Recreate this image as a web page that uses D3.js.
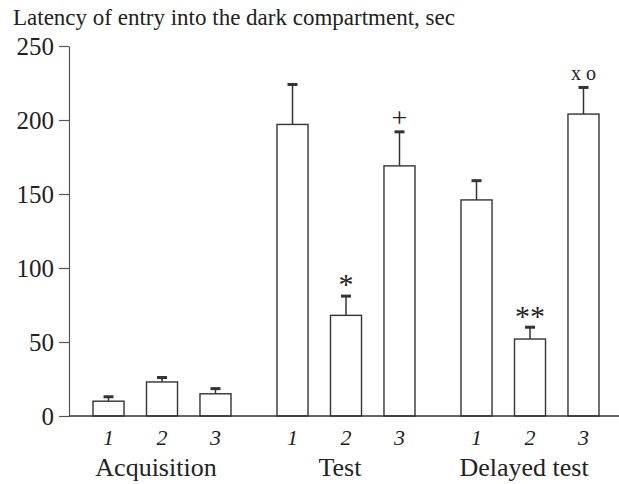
<!DOCTYPE html>
<html>
<head>
<meta charset="utf-8">
<script src="https://cdn.jsdelivr.net/npm/d3@7"></script>
<style>
  body { margin: 0; background: #fff; }
  text { font-family: "Liberation Serif", "Times New Roman", serif; fill: #222; }
</style>
</head>
<body>
<svg id="chart" width="619" height="484"></svg>
<script>
// data
const groups = ["Acquisition", "Test", "Delayed test"];
const subgroups = ["1", "2", "3"];
const means = [
  [10, 23, 15],
  [197, 68, 169],
  [146, 52, 204]
];
const errors = [
  [3, 3, 3.5],
  [27, 13, 23],
  [13, 8, 18]
];
const marks = [
  ["", "", ""],
  ["", "*", "+"],
  ["", "**", "x o"]
];
const yTicks = [0, 50, 100, 150, 200, 250];

const svg = d3.select("#chart");

// scales
const y = d3.scaleLinear().domain([0, 250]).range([416, 46]);
const xGroup = d3.scaleBand().domain(groups).range([93, 599]).paddingInner(0.25).paddingOuter(0);
const xSub = d3.scaleBand().domain(subgroups).range([0, xGroup.bandwidth()]).paddingInner(0.42).paddingOuter(0);

// flatten for drawing
const rows = [];
groups.forEach((g, gi) => {
  subgroups.forEach((s, si) => {
    rows.push({ group: g, sub: s, value: means[gi][si], err: errors[gi][si], mark: marks[gi][si] });
  });
});
const cx = d => xGroup(d.group) + xSub(d.sub) + xSub.bandwidth() / 2;

// title
svg.append("text")
  .attr("x", 13)
  .attr("y", 25)
  .style("font-size", "23px")
  .text("Latency of entry into the dark compartment, sec");

// y axis
const yAxis = svg.append("g")
  .attr("transform", "translate(69,0)")
  .call(d3.axisLeft(y).tickValues(yTicks).tickSize(10).tickSizeOuter(0).tickPadding(5));
yAxis.select(".domain").attr("stroke", "#555").attr("stroke-width", 1.2);
yAxis.selectAll(".tick line").attr("stroke", "#555").attr("stroke-width", 1.2);
yAxis.selectAll(".tick text")
  .style("font-size", "25px")
  .style("font-family", "'Liberation Serif', serif")
  .attr("fill", "#222")
  .attr("dy", "0.34em");

// error bars
svg.selectAll(".err-line")
  .data(rows)
  .join("line")
  .attr("class", "err-line")
  .attr("x1", cx).attr("x2", cx)
  .attr("y1", d => y(d.value))
  .attr("y2", d => y(d.value + d.err))
  .attr("stroke", "#333")
  .attr("stroke-width", 1.5);

svg.selectAll(".err-cap")
  .data(rows)
  .join("rect")
  .attr("class", "err-cap")
  .attr("x", d => cx(d) - 5)
  .attr("y", d => y(d.value + d.err) - 1.5)
  .attr("width", 10)
  .attr("height", 3)
  .attr("fill", "#333");

// bars
svg.selectAll(".bar")
  .data(rows)
  .join("rect")
  .attr("class", "bar")
  .attr("x", d => xGroup(d.group) + xSub(d.sub))
  .attr("y", d => y(d.value))
  .attr("width", xSub.bandwidth())
  .attr("height", d => y(0) - y(d.value))
  .attr("fill", "#fff")
  .attr("stroke", "#333")
  .attr("stroke-width", 1.4);

// x baseline
svg.append("line")
  .attr("x1", 69).attr("x2", 619)
  .attr("y1", y(0)).attr("y2", y(0))
  .attr("stroke", "#333")
  .attr("stroke-width", 1.4);

// significance marks
const markStyle = {
  "*": { size: 30, off: 2 },
  "**": { size: 30, off: 1 },
  "+": { size: 28, off: 5 },
  "x o": { size: 20, off: 7 }
};
svg.selectAll(".mark")
  .data(rows.filter(d => d.mark))
  .join("text")
  .attr("class", "mark")
  .attr("x", cx)
  .attr("y", d => y(d.value + d.err) - markStyle[d.mark].off)
  .attr("text-anchor", "middle")
  .style("font-size", d => markStyle[d.mark].size + "px")
  .style("font-weight", d => d.mark === "+" ? "300" : null)
  .text(d => d.mark);

// subgroup labels
svg.selectAll(".sub-label")
  .data(rows)
  .join("text")
  .attr("class", "sub-label")
  .attr("x", cx)
  .attr("y", 445)
  .attr("text-anchor", "middle")
  .style("font-size", "22px")
  .style("font-style", "italic")
  .text(d => d.sub);

// group labels
svg.selectAll(".group-label")
  .data(groups)
  .join("text")
  .attr("class", "group-label")
  .attr("x", g => xGroup(g) + xGroup.bandwidth() / 2)
  .attr("dx", -6)
  .attr("y", 476)
  .attr("text-anchor", "middle")
  .style("font-size", "26px")
  .text(g => g);
</script>
</body>
</html>
